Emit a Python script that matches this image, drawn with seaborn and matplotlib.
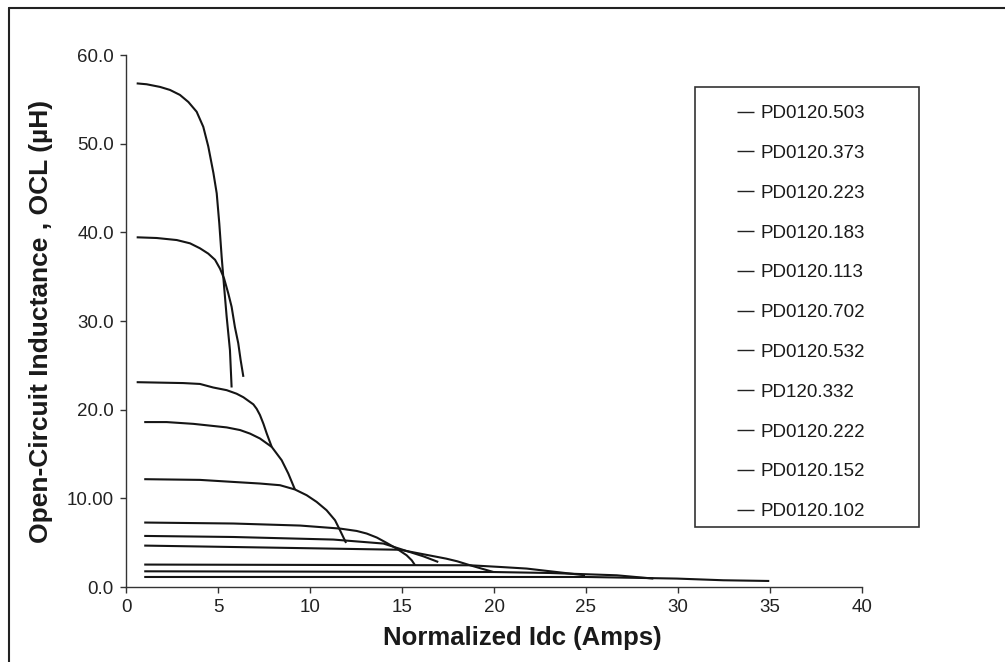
import numpy as np
import pandas as pd
import matplotlib
matplotlib.use("Agg")
import matplotlib.pyplot as plt
import seaborn as sns
from matplotlib.patches import Rectangle
from matplotlib.lines import Line2D

# ---- data ----
series_names = ["PD0120.503", "PD0120.373", "PD0120.223", "PD0120.183", "PD0120.113",
                "PD0120.702", "PD0120.532", "PD120.332", "PD0120.222", "PD0120.152",
                "PD0120.102"]

x_503 = [0.58, 1.12, 1.85, 2.39, 2.93, 3.39, 3.84, 4.2, 4.47, 4.75, 4.93, 5.07, 5.2, 5.33, 5.47, 5.65, 5.74]
y_503 = [56.8, 56.7, 56.4, 56.06, 55.5, 54.7, 53.6, 51.9, 49.7, 46.7, 44.4, 41.0, 37.2, 33.9, 30.5, 26.7, 22.5]

x_373 = [0.58, 1.67, 2.76, 3.48, 4.02, 4.47, 4.84, 5.11, 5.33, 5.56, 5.74, 5.92, 6.1, 6.23, 6.38]
y_373 = [39.44, 39.36, 39.13, 38.76, 38.2, 37.6, 36.9, 35.9, 34.8, 33.1, 31.6, 29.3, 27.5, 25.6, 23.7]

x_223 = [0.58, 3.11, 4.02, 4.74, 5.47, 6.01, 6.38, 6.65, 6.92, 7.1, 7.28, 7.47, 7.65, 7.92]
y_223 = [23.1, 23.0, 22.9, 22.5, 22.2, 21.8, 21.4, 21.0, 20.6, 20.1, 19.4, 18.4, 17.3, 15.8]

x_183 = [0.99, 2.21, 3.66, 5.47, 6.2, 6.74, 7.28, 7.92, 8.46, 8.82, 9.18]
y_183 = [18.6, 18.6, 18.4, 18.0, 17.7, 17.3, 16.75, 15.8, 14.3, 12.8, 11.0]

x_113 = [0.99, 4.02, 5.83, 7.28, 8.37, 9.18, 9.82, 10.36, 10.9, 11.36, 11.63, 11.96]
y_113 = [12.16, 12.08, 11.85, 11.67, 11.48, 11.0, 10.35, 9.6, 8.66, 7.53, 6.4, 4.97]

x_702 = [0.99, 5.83, 9.46, 11.63, 12.54, 13.08, 13.63, 14.17, 14.71, 15.25, 15.53, 15.71]
y_702 = [7.27, 7.16, 6.93, 6.59, 6.32, 6.03, 5.58, 4.97, 4.33, 3.58, 3.01, 2.45]

x_532 = [0.99, 5.83, 11.27, 13.99, 15.25, 16.16, 16.97]
y_532 = [5.76, 5.64, 5.35, 4.9, 4.06, 3.46, 2.82]

x_332 = [0.99, 7.65, 14.89, 17.4, 18.0, 18.7, 19.97]
y_332 = [4.67, 4.45, 4.2, 3.2, 2.9, 2.45, 1.69]

x_222 = [0.99, 18.7, 20.33, 21.77, 23.4, 24.95]
y_222 = [2.53, 2.45, 2.26, 2.08, 1.69, 1.32]

x_152 = [0.99, 19.97, 23.04, 26.67, 28.66]
y_152 = [1.77, 1.69, 1.58, 1.32, 0.95]

x_102 = [0.99, 25.04, 29.93, 32.46, 34.96]
y_102 = [1.13, 1.13, 0.95, 0.76, 0.68]

xs = [x_503, x_373, x_223, x_183, x_113, x_702, x_532, x_332, x_222, x_152, x_102]
ys = [y_503, y_373, y_223, y_183, y_113, y_702, y_532, y_332, y_222, y_152, y_102]

x_ticks = [0, 5, 10, 15, 20, 25, 30, 35, 40]
y_ticks = [0, 10, 20, 30, 40, 50, 60]
y_tick_labels = ["0.0", "10.00", "20.0", "30.0", "40.0", "50.0", "60.0"]

rows = []
for name, xv, yv in zip(series_names, xs, ys):
    for i, (a, b) in enumerate(zip(xv, yv)):
        rows.append({"series": name, "idx": i, "x": a, "y": b})
df = pd.DataFrame(rows)

# ---- style ----
sns.set_theme(style="ticks")
plt.rcParams["font.family"] = ["Liberation Sans", "DejaVu Sans"]

W, H = 1005, 662
fig = plt.figure(figsize=(W / 100, H / 100), dpi=100)
fig.patch.set_facecolor("white")

def px_to_fig(x, y):
    return x / W, 1 - y / H

left, right, top, bottom = 126, 862, 55, 587
ax = fig.add_axes([left / W, 1 - bottom / H, (right - left) / W, (bottom - top) / H])
ax.set_facecolor("white")

sns.lineplot(data=df, x="x", y="y", hue="series", hue_order=series_names,
             palette=["#151515"] * len(series_names), sort=False, estimator=None,
             units="series", linewidth=1.5, ax=ax, legend=True)
for ln in ax.get_lines():
    ln.set_solid_joinstyle("round")
    ln.set_solid_capstyle("butt")

ax.set_xlim(0, 40)
ax.set_ylim(0, 60)
ax.set_xticks(x_ticks)
ax.set_xticklabels([str(t) for t in x_ticks])
ax.set_yticks(y_ticks)
ax.set_yticklabels(y_tick_labels)
ax.tick_params(axis="both", direction="out", length=4.3, width=1.0, color="#333333",
               labelsize=13.5, labelcolor="#222222", pad=4.5)
for s in ["top", "right"]:
    ax.spines[s].set_visible(False)
for s in ["left", "bottom"]:
    ax.spines[s].set_color("#333333")
    ax.spines[s].set_linewidth(1.0)

ax.set_xlabel("Normalized Idc (Amps)", fontsize=18.5, fontweight="bold", color="#1a1a1a")
ax.set_ylabel("Open-Circuit Inductance , OCL (µH)", fontsize=19, fontweight="bold", color="#1a1a1a")
ax.xaxis.set_label_coords((522.5 - left) / (right - left), (bottom - 638) / (bottom - top))
ax.xaxis.label.set_va("center")
ax.yaxis.set_label_coords((41 - left) / (right - left), (bottom - 321) / (bottom - top))
ax.yaxis.label.set_va("center")

# legend
handles, labels = ax.get_legend_handles_labels()
ax.get_legend().remove()
lx, ly = px_to_fig(737, 105)
leg = ax.legend(handles, labels, loc="upper left", bbox_to_anchor=(lx, ly),
                bbox_transform=fig.transFigure, frameon=False, fontsize=13.5,
                borderpad=0, borderaxespad=0, handlelength=0.91, handletextpad=0.32,
                labelspacing=1.21)
for ln in leg.get_lines():
    ln.set_linewidth(1.0)
    ln.set_color("#222222")
for t in leg.get_texts():
    t.set_color("#1a1a1a")

# legend box
bx0, by1 = px_to_fig(695, 87)
bx1, by0 = px_to_fig(919, 527)
fig.patches.append(Rectangle((bx0, by0), bx1 - bx0, by1 - by0, transform=fig.transFigure,
                             fill=False, edgecolor="#333333", linewidth=1.2))

# outer border (top and left edges)
ox, oy = px_to_fig(9, 8)
fig.lines.append(Line2D([ox, ox], [0, oy], transform=fig.transFigure, color="#222222", linewidth=1.5))
fig.lines.append(Line2D([ox, 1], [oy, oy], transform=fig.transFigure, color="#222222", linewidth=1.5))

fig.savefig("out.png", dpi=100, facecolor="white")
